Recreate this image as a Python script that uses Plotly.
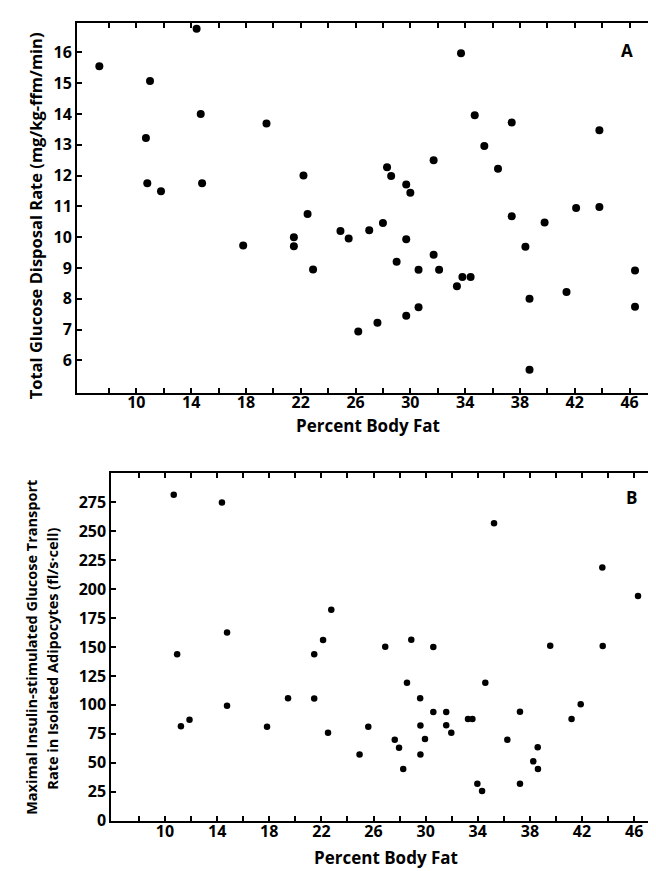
import plotly.graph_objects as go

# Panel A: Percent body fat vs total glucose disposal rate
pct_fat_a = [7.3, 14.4, 11.0, 14.7, 10.7, 19.5, 10.8, 11.8, 14.8, 22.2, 22.5, 17.8, 21.5, 21.5, 22.9,
             24.9, 25.5, 27.0, 28.0, 28.3, 28.6, 29.7, 30.0, 29.7, 29.0, 30.6, 31.7, 31.7, 32.1, 33.7,
             33.4, 33.8, 34.4, 34.7, 35.4, 36.4, 37.4, 37.4, 38.4, 38.7, 38.7, 39.8, 42.1, 41.4, 43.8,
             43.8, 46.4, 46.4, 26.2, 27.6, 29.7, 30.6]
gdr_a = [15.55, 16.77, 15.07, 14.0, 13.22, 13.69, 11.75, 11.49, 11.75, 12.0, 10.75, 9.73, 10.0, 9.71, 8.95,
         10.2, 9.96, 10.23, 10.46, 12.27, 11.99, 11.71, 11.44, 9.93, 9.2, 8.94, 9.43, 12.5, 8.94, 15.97,
         8.41, 8.71, 8.71, 13.96, 12.96, 12.22, 13.72, 10.68, 9.69, 8.0, 5.7, 10.48, 10.95, 8.22, 13.47,
         10.98, 8.92, 7.74, 6.94, 7.22, 7.45, 7.73]

# Panel B: Percent body fat vs maximal insulin-stimulated glucose transport
pct_fat_b = [10.67, 14.37, 10.93, 14.76, 14.76, 11.22, 11.88, 17.83, 19.44, 21.45, 21.45, 22.13, 22.76, 22.51,
             24.93, 25.6, 26.9, 27.63, 27.96, 28.28, 28.57, 28.9, 29.58, 29.6, 29.95, 29.6, 30.59, 30.59,
             31.58, 31.58, 31.97, 33.25, 33.59, 33.97, 34.33, 34.58, 35.25, 36.27, 37.24, 37.24, 38.26,
             38.6, 38.62, 39.56, 41.2, 41.9, 43.56, 43.59, 46.3]
transport_b = [281.6, 274.8, 143.8, 162.6, 99.2, 81.6, 87.2, 81.2, 105.7, 105.5, 143.8, 156.0, 182.2, 75.9,
               57.2, 81.2, 150.3, 69.9, 62.9, 44.6, 119.1, 156.3, 105.7, 82.1, 70.5, 57.2, 150.1, 93.8,
               93.8, 82.5, 75.9, 87.8, 87.8, 31.9, 25.6, 119.1, 256.9, 69.9, 94.1, 31.9, 51.2,
               63.4, 44.6, 151.2, 87.8, 100.6, 218.8, 150.9, 194.1]

x_tick_vals = [8, 10, 12, 14, 16, 18, 20, 22, 24, 26, 28, 30, 32, 34, 36, 38, 40, 42, 44, 46]
x_tick_text = ["", "10", "", "14", "", "18", "", "22", "", "26", "", "30", "", "34", "", "38", "", "42", "", "46"]
y_ticks_a = [6, 7, 8, 9, 10, 11, 12, 13, 14, 15, 16]
y_ticks_b = [0, 25, 50, 75, 100, 125, 150, 175, 200, 225, 250, 275]

FONT = "Open Sans"
fig = go.Figure()
fig.add_trace(go.Scatter(x=pct_fat_a, y=gdr_a, mode="markers",
                         marker=dict(color="black", size=8), xaxis="x", yaxis="y", showlegend=False))
fig.add_trace(go.Scatter(x=pct_fat_b, y=transport_b, mode="markers",
                         marker=dict(color="black", size=6.5), xaxis="x2", yaxis="y2", showlegend=False))

axis_common = dict(showline=True, linecolor="black", linewidth=2, mirror="ticks",
                   ticks="inside", ticklen=5, tickwidth=1.5, tickcolor="black",
                   showgrid=False, zeroline=False,
                   tickfont=dict(family=FONT, size=16, color="black", weight="bold"))

fig.update_layout(
    width=656, height=871,
    margin=dict(l=0, r=0, t=0, b=0),
    paper_bgcolor="white", plot_bgcolor="white",
    xaxis=dict(domain=[0.1052, 0.9909], range=[5.67, 48.08], tickvals=x_tick_vals, ticktext=x_tick_text,
               anchor="y", ticklabelstandoff=-6, **axis_common),
    yaxis=dict(domain=[0.5522, 0.9828], range=[4.94, 16.96], tickvals=y_ticks_a, anchor="x", **axis_common),
    xaxis2=dict(domain=[0.1575, 0.9924], range=[5.88, 47.91], tickvals=x_tick_vals, ticktext=x_tick_text,
                anchor="y2", ticklabelstandoff=-5, **axis_common),
    yaxis2=dict(domain=[0.0551, 0.4596], range=[0, 300.6], tickvals=y_ticks_b, anchor="x2", **axis_common),
)

def ann(text, x, y, size, angle=0):
    fig.add_annotation(text=text, x=x, y=y, xref="paper", yref="paper", showarrow=False,
                       textangle=angle, xanchor="center", yanchor="middle",
                       font=dict(family=FONT, size=size, color="black", weight="bold"))

ann("Percent Body Fat", 360 / 656, 1 - 423 / 871, 17)
ann("Total Glucose Disposal Rate (mg/kg-ffm/min)", 27 / 656, 1 - 211 / 871, 16.5, -90)
ann("A", 619 / 656, 1 - 43 / 871, 17)
ann("Percent Body Fat", 378 / 656, 1 - 860 / 871, 17)
ann("Maximal Insulin-stimulated Glucose Transport", 24 / 656, 1 - 648 / 871, 14.5, -90)
ann("Rate in Isolated Adipocytes (fl/s·cell)", 45 / 656, 1 - 659 / 871, 14.5, -90)
ann("B", 623 / 656, 1 - 496 / 871, 17)

fig.write_html("out.html")
